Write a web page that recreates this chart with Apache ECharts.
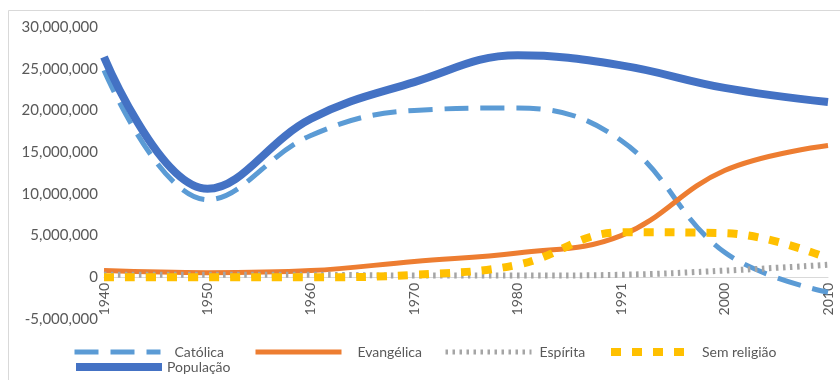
<!DOCTYPE html>
<html>
<head>
<meta charset="utf-8">
<script src="https://cdn.jsdelivr.net/npm/echarts@6/dist/echarts.min.js"></script>
<style>
  html, body { margin: 0; padding: 0; background: #fff; }
  #chart { width: 840px; height: 380px; }
</style>
</head>
<body>
<div id="chart"></div>
<script>
// valores
var years = ['1940', '1950', '1960', '1970', '1980', '1991', '2000', '2010'];
var catolica = [24800000, 9300000, 17000000, 20000000, 20300000, 16400000, 3000000, -1800000];
var evangelica = [800000, 550000, 800000, 1900000, 2900000, 5000000, 12800000, 15800000];
var espirita = [300000, 300000, 300000, 200000, 200000, 300000, 800000, 1500000];
var semReligiao = [0, 0, 0, 300000, 1500000, 5400000, 5300000, 2300000];
var populacao = [26400000, 10600000, 19000000, 23400000, 26600000, 25400000, 22700000, 21000000];

var textColor = '#595959';
var font = 'Lato, "Liberation Sans", sans-serif';

function fmt(v) {
  return Number(v).toLocaleString('en-US');
}

var chart = echarts.init(document.getElementById('chart'));

function lineSeries(name, data, color, width, dash) {
  return {
    name: name,
    type: 'line',
    data: data,
    smooth: 0.4,
    symbol: 'none',
    lineStyle: { color: color, width: width, type: dash, cap: 'butt' },
    itemStyle: { color: color }
  };
}

// uma legenda por item, para posicionar como no Excel
function legendItem(name, left, top, iconW, lineW, gap) {
  return {
    data: [name],
    left: left,
    top: top,
    padding: 0,
    itemWidth: iconW,
    itemHeight: 8,
    itemStyle: { opacity: 0 },
    lineStyle: { width: lineW },
    textStyle: { color: textColor, fontSize: 14, fontFamily: font, lineHeight: 14, padding: [0, 0, 0, gap] }
  };
}

chart.setOption({
  backgroundColor: '#fff',
  animation: false,
  textStyle: { fontFamily: font },
  graphic: [{
    type: 'rect',
    shape: { x: 8.5, y: 10.5, width: 850, height: 400 },
    style: { fill: 'none', stroke: '#d9d9d9', lineWidth: 1 },
    silent: true
  }],
  grid: { left: 104, right: 12, top: 27, bottom: 61 },
  legend: [
    legendItem('Católica', 72, 345, 86, 5, 9),
    legendItem('Evangélica', 253, 345, 86, 5, 11),
    legendItem('Espírita', 443, 345, 86, 5, 3),
    legendItem('Sem religião', 607, 345, 76, 8, 10),
    legendItem('População', 72, 360, 86, 8, 0)
  ],
  xAxis: {
    type: 'category',
    data: years,
    boundaryGap: false,
    offset: -42,
    axisLine: { onZero: false, lineStyle: { color: '#d9d9d9', width: 1 } },
    axisTick: { show: false },
    axisLabel: { rotate: 90, color: textColor, fontSize: 14, fontFamily: font, margin: 6 }
  },
  yAxis: {
    type: 'value',
    min: -5000000,
    max: 30000000,
    interval: 5000000,
    axisLine: { show: false },
    axisTick: { show: false },
    splitLine: { show: false },
    axisLabel: { color: textColor, fontSize: 15, fontFamily: font, margin: 6, formatter: fmt }
  },
  series: [
    lineSeries('Católica', catolica, '#5b9bd5', 5, [24, 12]),
    lineSeries('Evangélica', evangelica, '#ed7d31', 5, 'solid'),
    lineSeries('Espírita', espirita, '#a5a5a5', 6, [2.5, 4.5]),
    lineSeries('Sem religião', semReligiao, '#ffc000', 8, [10, 11]),
    lineSeries('População', populacao, '#4472c4', 8, 'solid')
  ]
});
</script>
</body>
</html>
